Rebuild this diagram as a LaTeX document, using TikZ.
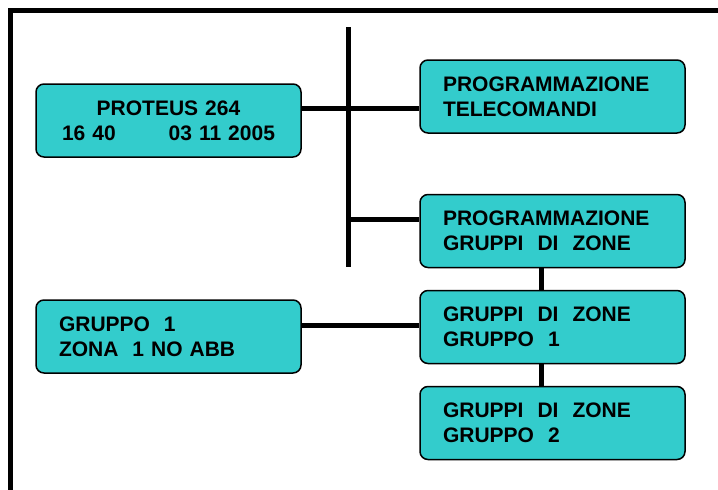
\documentclass[tikz,border=0pt]{standalone}
\usepackage{fontspec}
\setmainfont{Liberation Sans}
\definecolor{panel}{RGB}{51,204,204}

\begin{document}
\begin{tikzpicture}[x=1pt,y=-1pt,
    box/.style={draw=black,line width=1.5pt,fill=panel,rounded corners=8pt,
      minimum width=265pt,minimum height=73pt,text width=219pt,inner sep=0pt,
      align=left,font=\bfseries\fontsize{21}{25}\selectfont},
    link/.style={line width=5pt}]
\useasboundingbox (0,0) rectangle (718,490);
\clip (0,0) rectangle (718,490);
\draw[line width=5pt] (10,10) rectangle (740,510);

\node[box,align=center] (p) at (168.5,120.5) {PROTEUS 264\\16 40\hspace{53pt}03 11 2005};
\node[box] (t) at (552.5,96.5) {PROGRAMMAZIONE\\TELECOMANDI};
\node[box] (g) at (552.5,231) {PROGRAMMAZIONE\\GRUPPI\ \ DI\ \ ZONE};
\node[box] (g1) at (552.5,327) {GRUPPI\ \ DI\ \ ZONE\\GRUPPO\ \ 1};
\node[box] (g2) at (552.5,423) {GRUPPI\ \ DI\ \ ZONE\\GRUPPO\ \ 2};
\node[box] (z) at (168.5,336.5) {GRUPPO\ \ 1\\ZONA\ \ 1 NO ABB};

\coordinate (top) at (348.5,27);
\coordinate (bot) at (348.5,267);
\coordinate (bus) at (348.5,108);
\coordinate (tap) at (348.5,219);
\coordinate (col) at (541,0);
\coordinate (row) at (0,325);

\draw[link] (top) -- (bot);
\draw[link] (p.east |- bus) -- (t.west |- bus);
\draw[link] (tap) -- (g.west |- tap);
\draw[link] (g.south -| col) -- (g1.north -| col);
\draw[link] (g1.south -| col) -- (g2.north -| col);
\draw[link] (z.east |- row) -- (g1.west |- row);
\end{tikzpicture}
\end{document}
